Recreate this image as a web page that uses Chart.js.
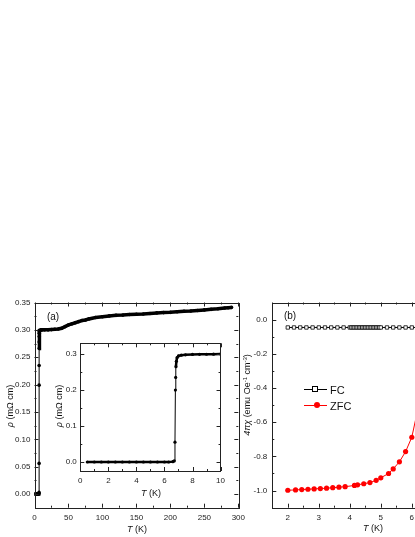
<!DOCTYPE html>
<html>
<head>
<meta charset="utf-8">
<script src="https://cdn.jsdelivr.net/npm/chart.js@4.4.0/dist/chart.umd.min.js"></script>
<style>
html, body { margin: 0; padding: 0; background: #fff; overflow: hidden; width: 415px; height: 537px; }
body { position: relative; font-family: "Liberation Sans", Arial, sans-serif; color: #111; }
canvas { position: absolute; }
.lbl { position: absolute; white-space: nowrap; font-size: 9px; line-height: 1; transform: translate(-50%, -50%); }
.rot { transform: translate(-50%, -50%) rotate(-90deg); }
.lbl sup { font-size: 6px; vertical-align: 3px; line-height: 0; }
.leg { position: absolute; }
</style>
</head>
<body>
<canvas id="chartA" width="250" height="257" style="left:0;top:280px"></canvas>
<canvas id="chartIn" width="170" height="165" style="left:60px;top:335px"></canvas>
<canvas id="chartB" width="260" height="257" style="left:230px;top:280px"></canvas>

<!-- textos dos eixos -->
<div class="lbl rot" style="left:10px;top:406px"><i>ρ</i> (mΩ cm)</div>
<div class="lbl" style="left:137px;top:529px"><i>T</i> (K)</div>
<div class="lbl rot" style="left:59px;top:406px"><i>ρ</i> (mΩ cm)</div>
<div class="lbl" style="left:151px;top:493px"><i>T</i> (K)</div>
<div class="lbl" style="left:53px;top:317px;font-size:10px">(a)</div>
<div class="lbl" style="left:290px;top:316px;font-size:10px">(b)</div>
<div class="lbl rot" style="left:247px;top:395px"><i>4πχ</i> (emu Oe<sup>-1</sup> cm<sup>-3</sup>)</div>
<div class="lbl" style="left:373px;top:528px"><i>T</i> (K)</div>

<!-- legenda (b) -->
<div class="leg" style="left:304px;top:389px;width:23px;border-top:1px solid #000"></div>
<div class="leg" style="left:312px;top:386px;width:4px;height:4px;border:1px solid #000;background:#fff"></div>
<div class="lbl" style="left:330px;top:390px;font-size:11px;transform:translate(0,-50%)">FC</div>
<div class="leg" style="left:304px;top:405px;width:23px;border-top:1px solid #f00"></div>
<div class="leg" style="left:314px;top:402px;width:6px;height:6px;border-radius:50%;background:#f00"></div>
<div class="lbl" style="left:330px;top:406px;font-size:11px;transform:translate(0,-50%)">ZFC</div>

<script>
// ---------- dados (a): resistividade ----------
const aT   = [0.5, 1, 1.5, 2, 2.5, 3, 3.5, 4, 4.5, 5, 5.5, 6, 6.5, 6.7, 6.75, 6.8, 6.82, 6.85, 6.9, 6.95, 7, 7.2, 7.5, 8, 9, 10,
              12, 15, 20, 25, 30, 35, 40, 45, 50, 55, 60, 65, 70, 75, 80, 90, 100, 110, 120, 130, 140, 150, 160, 170,
              180, 190, 200, 210, 220, 230, 240, 250, 260, 270, 280, 285, 290];
const aRho = [0, 0, 0, 0, 0, 0, 0, 0, 0, 0, 0, 0, 0.001, 0.003, 0.056, 0.199, 0.235, 0.266, 0.278, 0.288, 0.294, 0.297, 0.298, 0.299, 0.2995, 0.300,
              0.300, 0.300, 0.300, 0.3005, 0.301, 0.3015, 0.303, 0.306, 0.309, 0.311, 0.313, 0.315, 0.317, 0.318, 0.320, 0.3225, 0.324, 0.3255, 0.3265, 0.327, 0.328, 0.3285, 0.329, 0.330,
              0.331, 0.3315, 0.332, 0.333, 0.334, 0.3345, 0.3355, 0.3365, 0.3375, 0.3385, 0.340, 0.3405, 0.341];
const aXTicks = [0, 50, 100, 150, 200, 250, 300];
const aXMinor = [25, 75, 125, 175, 225, 275];
const aYTicks = [0, 0.05, 0.10, 0.15, 0.20, 0.25, 0.30, 0.35];
const aYMinor = [0.025, 0.075, 0.125, 0.175, 0.225, 0.275, 0.325];

// ---------- dados inset ----------
const inT   = [0.5, 1, 1.5, 2, 2.5, 3, 3.5, 4, 4.5, 5, 5.5, 6, 6.3, 6.6, 6.7, 6.75, 6.78, 6.8, 6.82, 6.85, 6.9, 7.0, 7.2, 7.5, 8, 8.5, 9, 9.5, 10];
const inRho = [0, 0, 0, 0, 0, 0, 0, 0, 0, 0, 0, 0, 0, 0.001, 0.003, 0.055, 0.200, 0.235, 0.265, 0.280, 0.290, 0.295, 0.297, 0.298, 0.299, 0.2993, 0.2996, 0.2998, 0.300];
const inXTicks = [0, 2, 4, 6, 8, 10];
const inXMinor = [1, 3, 5, 7, 9];
const inYTicks = [0.0, 0.1, 0.2, 0.3];
const inYMinor = [0.05, 0.15, 0.25];

// ---------- dados (b): susceptibilidade ----------
const fcT = [2.0, 2.2, 2.4, 2.6, 2.8, 3.0, 3.2, 3.4, 3.6, 3.8, 4.0, 4.05, 4.1, 4.15, 4.2, 4.25, 4.3, 4.35, 4.4, 4.45, 4.5,
             4.55, 4.6, 4.65, 4.7, 4.75, 4.8, 4.85, 4.9, 4.95, 5.0, 5.2, 5.4, 5.6, 5.8, 6.0, 6.2, 6.4, 6.6, 6.8, 7.0];
const fcChi = [-0.046, -0.046, -0.046, -0.046, -0.046, -0.046, -0.046, -0.046, -0.046, -0.046, -0.046, -0.046, -0.046, -0.046, -0.046, -0.046, -0.046, -0.046, -0.046, -0.046, -0.046,
               -0.046, -0.046, -0.046, -0.046, -0.046, -0.046, -0.046, -0.046, -0.046, -0.046, -0.046, -0.046, -0.046, -0.046, -0.046, -0.046, -0.046, -0.046, -0.046, -0.046];
const zfcT = [2.0, 2.25, 2.45, 2.65, 2.85, 3.05, 3.25, 3.45, 3.65, 3.85, 4.15, 4.25, 4.45, 4.65, 4.85, 5.0, 5.25, 5.4, 5.6, 5.8, 6.0, 6.2, 6.4];
const zfcChi = [-0.998, -0.996, -0.994, -0.992, -0.990, -0.988, -0.986, -0.983, -0.980, -0.977, -0.970, -0.966, -0.960, -0.953, -0.940, -0.925, -0.900, -0.873, -0.832, -0.772, -0.688, -0.52, -0.30];
const bXTicks = [2, 3, 4, 5, 6, 7, 8];
const bXMinor = [1.5, 2.5, 3.5, 4.5, 5.5, 6.5, 7.5];
const bYTicks = [-1.0, -0.8, -0.6, -0.4, -0.2, 0.0];
const bYMinor = [-1.1, -0.9, -0.7, -0.5, -0.3, -0.1, 0.1];

Chart.defaults.font.family = '"Liberation Sans", Arial, sans-serif';
Chart.defaults.color = '#222';

const pts = (xs, ys) => xs.map((x, i) => ({ x: x, y: ys[i] }));

// moldura + ticks para dentro nos quatro lados
const frameTicks = {
    id: 'frameTicks',
    beforeDatasetsDraw(chart, args, o) {
        if (!o.fill) return;
        const a = chart.chartArea;
        chart.ctx.save();
        chart.ctx.fillStyle = '#fff';
        chart.ctx.fillRect(a.left, a.top, a.right - a.left, a.bottom - a.top);
        chart.ctx.restore();
    },
    afterDraw(chart, args, o) {
        const { ctx, chartArea: a, scales: { x, y } } = chart;
        ctx.save();
        ctx.strokeStyle = '#222';
        ctx.lineWidth = 1;
        ctx.strokeRect(Math.round(a.left) + 0.5, Math.round(a.top) + 0.5, Math.round(a.right - a.left), Math.round(a.bottom - a.top));
        ctx.beginPath();
        const tx = (v, len) => {
            if (v < x.min || v > x.max) return;
            const p = Math.round(x.getPixelForValue(v)) + 0.5;
            ctx.moveTo(p, a.bottom); ctx.lineTo(p, a.bottom - len);
            ctx.moveTo(p, a.top); ctx.lineTo(p, a.top + len);
        };
        const ty = (v, len) => {
            if (v < y.min || v > y.max) return;
            const p = Math.round(y.getPixelForValue(v)) + 0.5;
            ctx.moveTo(a.left, p); ctx.lineTo(a.left + len, p);
            ctx.moveTo(a.right, p); ctx.lineTo(a.right - len, p);
        };
        x.ticks.forEach(t => tx(t.value, 4));
        y.ticks.forEach(t => ty(t.value, 4));
        o.xMinor.forEach(v => tx(v, 2));
        o.yMinor.forEach(v => ty(v, 2));
        ctx.stroke();
        ctx.restore();
    }
};

function makeScales(cfg) {
    return {
        x: {
            type: 'linear', min: cfg.xmin, max: cfg.xmax,
            afterBuildTicks: s => { s.ticks = cfg.xTicks.map(v => ({ value: v })); },
            afterFit: s => { s.height = cfg.xH; },
            grid: { display: false, drawTicks: false },
            border: { display: false },
            ticks: { font: { size: 8 }, padding: 5, autoSkip: false, maxRotation: 0, callback: cfg.fx }
        },
        y: {
            type: 'linear', min: cfg.ymin, max: cfg.ymax,
            afterBuildTicks: s => { s.ticks = cfg.yTicks.map(v => ({ value: v })); },
            afterFit: s => { s.width = cfg.yW; },
            grid: { display: false, drawTicks: false },
            border: { display: false },
            ticks: { font: { size: 8 }, padding: cfg.yPad, autoSkip: false, callback: cfg.fy }
        }
    };
}

function baseOptions(cfg) {
    return {
        responsive: false,
        animation: false,
        devicePixelRatio: 1,
        layout: { padding: cfg.pad },
        plugins: {
            legend: { display: false },
            tooltip: { enabled: false },
            frameTicks: { fill: cfg.fill, xMinor: cfg.xMinor, yMinor: cfg.yMinor }
        },
        scales: makeScales(cfg)
    };
}

// espessura: trechos verticais finos, trechos planos grossos
const thickSeg = (thin, thick, lim) => ctx => Math.abs(ctx.p1.parsed.y - ctx.p0.parsed.y) > lim ? thin : thick;

// ---------- (a) ----------
new Chart(document.getElementById('chartA'), {
    type: 'line',
    data: {
        datasets: [{
            data: pts(aT, aRho),
            borderColor: '#000', backgroundColor: '#000',
            borderWidth: 3.5, pointRadius: 1.8, pointBorderWidth: 0,
            segment: { borderWidth: thickSeg(1, 3.5, 0.02) }
        }]
    },
    options: baseOptions({
        xmin: 0, xmax: 300, ymin: -0.025, ymax: 0.35,
        xTicks: aXTicks, yTicks: aYTicks, xMinor: aXMinor, yMinor: aYMinor,
        fx: v => String(v), fy: v => v.toFixed(2),
        xH: 29.3, yW: 34.5, yPad: 4, fill: false,
        pad: { top: 22.5, right: 10, left: 0, bottom: 0 }
    }),
    plugins: [frameTicks]
});

// ---------- inset ----------
new Chart(document.getElementById('chartIn'), {
    type: 'line',
    data: {
        datasets: [{
            data: pts(inT, inRho),
            borderColor: '#000', backgroundColor: '#000',
            borderWidth: 2.5, pointRadius: 1.6, pointBorderWidth: 0,
            segment: { borderWidth: thickSeg(1, 2.5, 0.02) }
        }]
    },
    options: baseOptions({
        xmin: 0, xmax: 10, ymin: -0.025, ymax: 0.33,
        xTicks: inXTicks, yTicks: inYTicks, xMinor: inXMinor, yMinor: inYMinor,
        fx: v => String(v), fy: v => v.toFixed(1),
        xH: 29, yW: 20.3, yPad: 3.5, fill: true,
        pad: { top: 8.3, right: 9.3, left: 0, bottom: 0 }
    }),
    plugins: [frameTicks]
});

// ---------- (b) ----------
new Chart(document.getElementById('chartB'), {
    type: 'line',
    data: {
        datasets: [
            {
                label: 'FC',
                data: pts(fcT, fcChi),
                borderColor: '#000', borderWidth: 1,
                pointStyle: 'rect', pointRadius: 2.4,
                pointBackgroundColor: '#fff', pointBorderColor: '#000', pointBorderWidth: 0.8
            },
            {
                label: 'ZFC',
                data: pts(zfcT, zfcChi),
                borderColor: '#f00', borderWidth: 1,
                pointStyle: 'circle', pointRadius: 2.6,
                pointBackgroundColor: '#f00', pointBorderColor: '#f00', pointBorderWidth: 0
            }
        ]
    },
    options: baseOptions({
        xmin: 1.5, xmax: 8, ymin: -1.1, ymax: 0.1,
        xTicks: bXTicks, yTicks: bYTicks, xMinor: bXMinor, yMinor: bYMinor,
        fx: v => String(v), fy: v => v.toFixed(1),
        xH: 29.3, yW: 42.3, yPad: 5, fill: false,
        pad: { top: 22.5, right: 16.2, left: 0, bottom: 0 }
    }),
    plugins: [frameTicks]
});
</script>
</body>
</html>
